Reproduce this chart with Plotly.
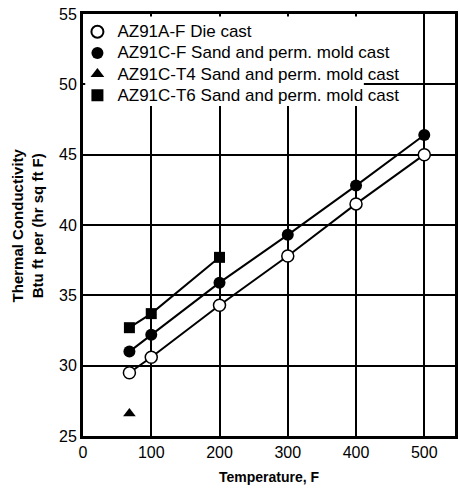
import plotly.graph_objects as go

temps_die = [68, 100, 200, 300, 400, 500]
k_die = [29.5, 30.6, 34.3, 37.8, 41.5, 45.0]
temps_cf = [68, 100, 200, 300, 400, 500]
k_cf = [31.0, 32.2, 35.9, 39.3, 42.8, 46.4]
temps_t4 = [68]
k_t4 = [26.6]
temps_t6 = [68, 100, 200]
k_t6 = [32.7, 33.7, 37.7]

names = [
    "AZ91A-F Die cast",
    "AZ91C-F Sand and perm. mold cast",
    "AZ91C-T4 Sand and perm. mold cast",
    "AZ91C-T6 Sand and perm. mold cast",
]
x_ticks = [0, 100, 200, 300, 400, 500]
y_ticks = [25, 30, 35, 40, 45, 50, 55]

FONT = "Liberation Sans, Arial, sans-serif"

markers = [
    dict(symbol="circle", size=12, color="white", line=dict(color="black", width=1.5)),
    dict(symbol="circle", size=12, color="black"),
    dict(symbol="triangle-up", size=11, color="black"),
    dict(symbol="square", size=11, color="black"),
]
series = [(temps_die, k_die, True), (temps_cf, k_cf, True),
          (temps_t4, k_t4, False), (temps_t6, k_t6, True)]

fig = go.Figure()
for (xs, ys, has_line), m in zip(series, markers):
    fig.add_trace(go.Scatter(
        x=xs, y=ys, mode="lines+markers" if has_line else "markers",
        line=dict(color="black", width=2), marker=m, showlegend=False,
    ))
# legend entries (markers only)
for name, m in zip(names, markers):
    fig.add_trace(go.Scatter(
        x=[None], y=[None], name='<span style="font-size:17px">%s</span>' % name,
        mode="markers", marker=m, showlegend=True,
    ))

# white patch hiding gridlines behind the legend
fig.add_shape(type="rect", xref="paper", yref="paper",
              x0=0.006, x1=0.755, y0=0.782, y1=0.994, layer="above",
              fillcolor="white", line=dict(width=0))

fig.update_layout(
    width=460, height=491,
    margin=dict(l=83, r=2, t=14, b=55),
    paper_bgcolor="white", plot_bgcolor="white",
    font=dict(family=FONT, size=16, color="black"),
    legend=dict(
        x=-0.015, y=0.995, xanchor="left", yanchor="top",
        bgcolor="rgba(0,0,0,0)", borderwidth=0,
        font=dict(family=FONT, size=14, color="black"),
        itemsizing="constant", tracegroupgap=0, itemwidth=30,
    ),
    xaxis=dict(
        range=[0, 545], tickvals=x_ticks,
        showgrid=True, gridcolor="black", gridwidth=1.6,
        showline=True, linecolor="black", linewidth=3, mirror=True,
        ticks="", zeroline=False,
    ),
    yaxis=dict(
        range=[25, 55], tickvals=y_ticks,
        showgrid=True, gridcolor="black", gridwidth=1.6,
        showline=True, linecolor="black", linewidth=3, mirror=True,
        ticks="", zeroline=False,
    ),
    annotations=[
        dict(text="<b>Temperature, F</b>", xref="paper", yref="paper",
             x=0.5, y=-0.097, xanchor="center", yanchor="middle",
             showarrow=False, font=dict(family=FONT, size=14)),
        dict(text="<b>Thermal Conductivity<br>Btu ft per (hr sq ft F)</b>",
             xref="paper", yref="paper", x=(27 - 83) / 375, y=0.5,
             xanchor="center", yanchor="middle", textangle=-90,
             showarrow=False, font=dict(family=FONT, size=15)),
    ],
)

fig.write_html("out.html")
